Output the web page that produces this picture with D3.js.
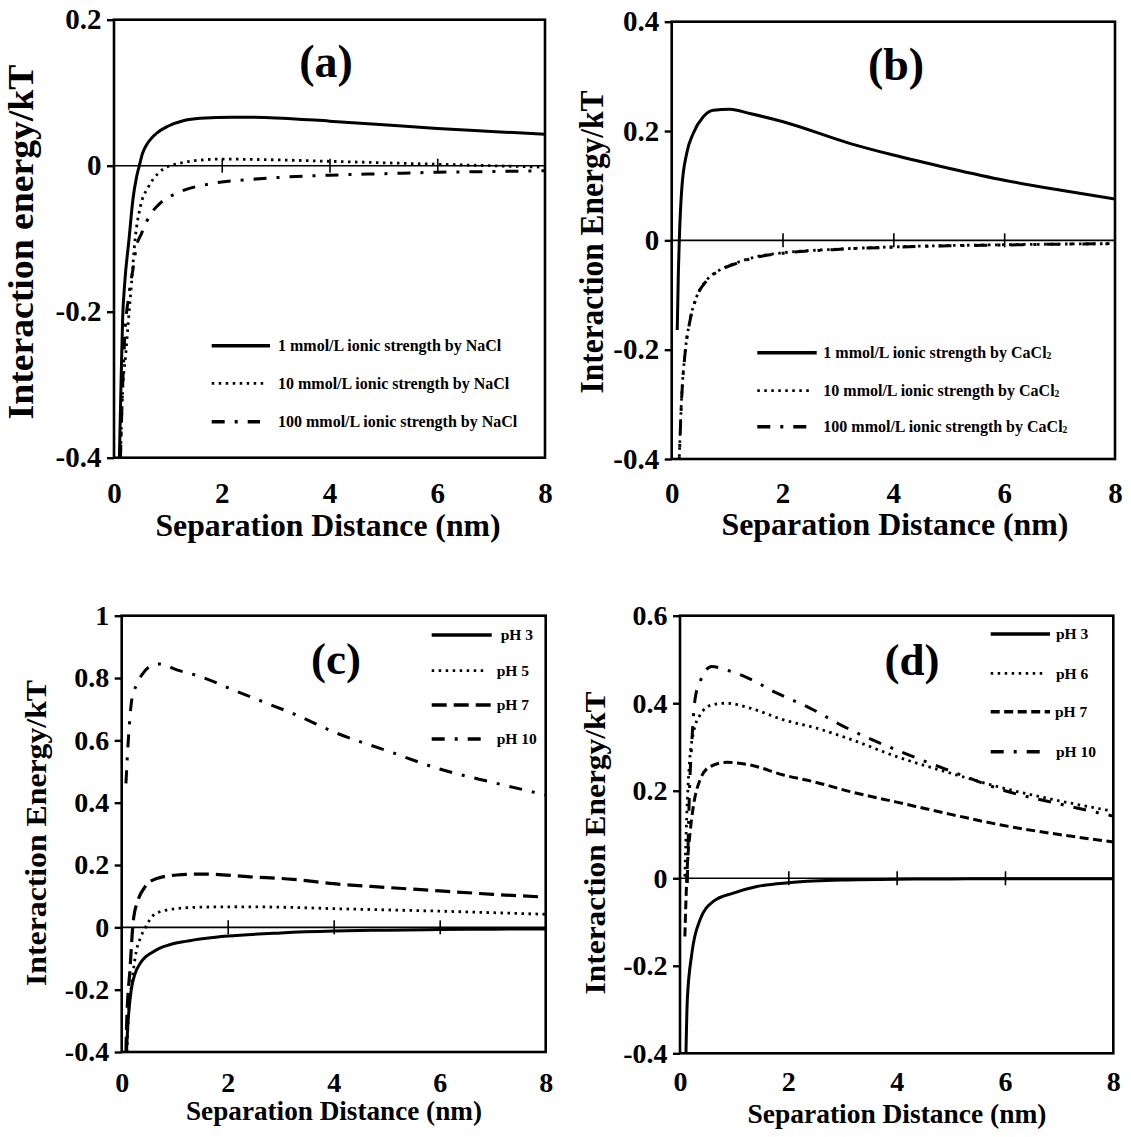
<!DOCTYPE html>
<html><head><meta charset="utf-8">
<script src="https://cdn.jsdelivr.net/npm/d3@7"></script>
<style>
body{margin:0;background:#fff}
svg{display:block}
text{font-family:'Liberation Serif','Times New Roman',serif;font-weight:bold;fill:#000}
</style>
</head><body>
<svg id="chart" width="1131" height="1137"></svg>
<script>
// ---------------- DATA ----------------
const xTickValues = [0, 2, 4, 6, 8];
const yTicksA = [-0.4, -0.2, 0, 0.2];
const yTicksB = [-0.4, -0.2, 0, 0.2, 0.4];
const yTicksC = [-0.4, -0.2, 0, 0.2, 0.4, 0.6, 0.8, 1];
const yTicksD = [-0.4, -0.2, 0, 0.2, 0.4, 0.6];

const legendA = ['1 mmol/L ionic strength by NaCl', '10 mmol/L ionic strength by NaCl', '100 mmol/L ionic strength by NaCl'];
const legendB = ['1 mmol/L ionic strength by CaCl₂', '10 mmol/L ionic strength by CaCl₂', '100 mmol/L ionic strength by CaCl₂'];
const legendC = ['pH 3', 'pH 5', 'pH 7', 'pH 10'];
const legendD = ['pH 3', 'pH 6', 'pH 7', 'pH 10'];

// panel (a): NaCl
const a_NaCl_1 = [[0.1,-0.40],[0.13,-0.30],[0.16,-0.21],[0.2,-0.16],[0.28,-0.10],[0.35,-0.047],[0.42,-0.015],[0.47,0],[0.53,0.017],[0.6,0.028],[0.7,0.038],[0.8,0.045],[1.0,0.054],[1.3,0.062],[1.6,0.065],[2.2,0.0665],[3,0.0655],[4,0.061],[5,0.056],[6,0.051],[7,0.047],[8,0.043]];
const a_NaCl_10 = [[0.12,-0.40],[0.16,-0.31],[0.22,-0.257],[0.27,-0.21],[0.32,-0.166],[0.39,-0.102],[0.49,-0.056],[0.64,-0.029],[0.82,-0.0105],[1.04,0],[1.2,0.003],[1.5,0.007],[2,0.009],[3,0.008],[4,0.006],[5,0.004],[6,0.002],[7,0.0],[8,-0.002]];
const a_NaCl_100 = [[0.12,-0.40],[0.14,-0.348],[0.2,-0.234],[0.28,-0.175],[0.36,-0.138],[0.41,-0.113],[0.51,-0.093],[0.67,-0.0675],[0.82,-0.054],[1.22,-0.036],[1.78,-0.025],[2.5,-0.019],[3.08,-0.016],[4,-0.013],[5,-0.011],[6,-0.009],[7,-0.008],[8,-0.007]];

// panel (b): CaCl2
const b_CaCl2_1 = [[0.10,-0.164],[0.12,-0.06],[0.137,0],[0.18,0.092],[0.27,0.159],[0.39,0.196],[0.57,0.226],[0.75,0.238],[1.05,0.2397],[1.41,0.232],[2.01,0.217],[3.21,0.1775],[4,0.156],[5,0.132],[6,0.110],[7,0.092],[8,0.0756]];
const b_CaCl2_10 = [[0.137,-0.396],[0.18,-0.286],[0.24,-0.207],[0.33,-0.146],[0.45,-0.103],[0.63,-0.073],[0.87,-0.054],[1.17,-0.041],[1.53,-0.030],[2.01,-0.0227],[2.91,-0.0165],[4,-0.012],[5,-0.0095],[6,-0.008],[7,-0.0068],[8,-0.006]];
const b_CaCl2_100 = [[0.13,-0.42],[0.18,-0.288],[0.24,-0.208],[0.33,-0.147],[0.45,-0.104],[0.63,-0.074],[0.87,-0.055],[1.17,-0.042],[1.53,-0.031],[2.01,-0.0235],[2.91,-0.017],[4,-0.0125],[5,-0.010],[6,-0.0085],[7,-0.007],[8,-0.0062]];

// panel (c): pH (set 1)
const c_pH3 = [[0.09,-0.40],[0.11,-0.33],[0.14,-0.26],[0.18,-0.2],[0.25,-0.15],[0.35,-0.115],[0.45,-0.095],[0.55,-0.083],[0.7,-0.068],[0.9,-0.056],[1.2,-0.045],[1.6,-0.035],[2,-0.028],[3,-0.018],[4,-0.012],[5,-0.009],[6,-0.007],[7,-0.006],[8,-0.005]];
const c_pH5 = [[0.1,-0.40],[0.125,-0.287],[0.19,-0.18],[0.28,-0.073],[0.35,-0.035],[0.44,-0.003],[0.6,0.039],[0.85,0.0556],[1.35,0.064],[2.1,0.066],[3.2,0.064],[4,0.060],[5,0.056],[6,0.052],[7,0.047],[8,0.042]];
const c_pH7 = [[0.08,-0.40],[0.09,-0.33],[0.16,-0.126],[0.22,0.023],[0.31,0.088],[0.44,0.130],[0.66,0.157],[1.04,0.168],[1.6,0.171],[2.42,0.162],[3.24,0.154],[4,0.14],[5,0.128],[6,0.117],[7,0.106],[8,0.097]];
const c_pH10 = [[0.08,0.462],[0.125,0.601],[0.19,0.73],[0.28,0.778],[0.38,0.81],[0.53,0.837],[0.72,0.845],[1.04,0.826],[1.48,0.805],[2.1,0.762],[2.74,0.719],[3.3,0.681],[4,0.627],[5,0.567],[6,0.508],[7,0.465],[8,0.425]];

// panel (d): pH (set 2)
const d_pH3 = [[0.11,-0.40],[0.135,-0.278],[0.22,-0.171],[0.37,-0.095],[0.615,-0.053],[0.985,-0.034],[1.42,-0.019],[2.0,-0.010],[3.0,-0.004],[4,-0.002],[5,-0.0015],[6,-0.001],[7,-0.001],[8,-0.001]];
const d_pH6 = [[0.09,0.004],[0.124,0.141],[0.17,0.255],[0.246,0.331],[0.37,0.373],[0.585,0.396],[0.86,0.40],[1.29,0.389],[1.91,0.362],[2.52,0.343],[3.14,0.318],[4,0.278],[5,0.24],[6,0.205],[7,0.177],[8,0.153]];
const d_pH7 = [[0.09,-0.133],[0.11,-0.05],[0.135,0.027],[0.185,0.103],[0.246,0.164],[0.37,0.225],[0.554,0.255],[0.86,0.265],[1.29,0.259],[1.91,0.236],[2.52,0.219],[3.14,0.198],[4,0.174],[5,0.146],[6,0.12],[7,0.10],[8,0.083]];
const d_pH10 = [[0.135,-0.011],[0.17,0.179],[0.22,0.316],[0.28,0.411],[0.37,0.449],[0.585,0.484],[0.86,0.476],[1.23,0.459],[1.79,0.423],[2.4,0.389],[3.02,0.347],[4,0.293],[5,0.245],[6,0.2],[7,0.17],[8,0.142]];

// ---------------- STYLES ----------------
const SOLID = {dash: null, w: 3};
const DOT = {dash: '2.5,4.5', w: 2.8};
const DASHC = {dash: '15,7', w: 3.2};
const DASHD = {dash: '9,4.5', w: 3};
const DASHDOT = {dash: '13,10,3,10', w: 3};

const panels = [
  {box:{l:114,r:545,t:19.7,b:457.7}, yDomain:[-0.4,0.2], yTicks:yTicksA,
   title:'(a)', tx:326, ty:77, tsize:46,
   yTitle:'Interaction energy/kT', ytx:21, yty:242, ytLen:355, ytSize:36,
   xTitle:'Separation Distance (nm)', xtx:328, xty:536, xtLen:345, xtSize:31,
   tickSize:29, xLabY:503,
   series:[[a_NaCl_1,SOLID],[a_NaCl_10,DOT],[a_NaCl_100,DASHDOT]],
   legend:{labels:legendA, x1:211.7, x2:[270,266.7,260], tx:[278,278,278], ys:[345.7,383.3,421.7], size:16}},
  {box:{l:671.7,r:1115,t:21.7,b:459}, yDomain:[-0.4,0.4], yTicks:yTicksB,
   title:'(b)', tx:896, ty:80, tsize:46,
   yTitle:'Interaction Energy/kT', ytx:592, yty:242, ytLen:303, ytSize:34,
   xTitle:'Separation Distance (nm)', xtx:895, xty:535, xtLen:347, xtSize:31,
   tickSize:29, xLabY:502.7,
   series:[[b_CaCl2_1,SOLID],[b_CaCl2_10,DOT],[b_CaCl2_100,DASHDOT]],
   legend:{labels:legendB, x1:757.3, x2:[816.7,813.3,806.7], tx:[823.3,823.3,823.3], ys:[352.7,390.7,426.7], size:16}},
  {box:{l:121.7,r:545.7,t:615.7,b:1052}, yDomain:[-0.4,1], yTicks:yTicksC,
   title:'(c)', tx:336, ty:674, tsize:45,
   yTitle:'Interaction Energy/kT', ytx:36.5, yty:833, ytLen:306, ytSize:30,
   xTitle:'Separation Distance (nm)', xtx:334, xty:1120, xtLen:296, xtSize:28,
   tickSize:28, xLabY:1092,
   series:[[c_pH3,SOLID],[c_pH5,DOT],[c_pH7,DASHC],[c_pH10,DASHDOT]],
   legend:{labels:legendC, x1:431.7, x2:[491.7,486.7,491.7,481.7], tx:[500.7,496.7,496.7,496.7], ys:[635,670.7,705,739], size:15.5, dashes:[SOLID,DOT,DASHC,DASHDOT]}},
  {box:{l:680,r:1113.3,t:615.7,b:1053.3}, yDomain:[-0.4,0.6], yTicks:yTicksD,
   title:'(d)', tx:912, ty:675, tsize:45,
   yTitle:'Interaction Energy/kT', ytx:595, yty:843, ytLen:303, ytSize:30,
   xTitle:'Separation Distance (nm)', xtx:897, xty:1123, xtLen:299, xtSize:28,
   tickSize:28, xLabY:1091,
   series:[[d_pH3,SOLID],[d_pH6,DOT],[d_pH7,DASHD],[d_pH10,DASHDOT]],
   legend:{labels:legendD, x1:990.7, x2:[1050,1046.7,1050,1040], tx:[1056,1056,1055,1056], ys:[634,673.3,711.7,751.7], size:15.5}}
];

const svg = d3.select('#chart');
const fmt = v => (v === 0 ? '0' : String(+v.toFixed(1)));

panels.forEach((p, i) => {
  const {l, r, t, b} = p.box;
  const x = d3.scaleLinear().domain([0, 8]).range([l, r]);
  const y = d3.scaleLinear().domain(p.yDomain).range([b, t]);
  const g = svg.append('g');

  const clipId = 'clip' + i;
  svg.append('clipPath').attr('id', clipId)
    .append('rect').attr('x', l).attr('y', t).attr('width', r - l).attr('height', b - t);

  // zero line
  g.append('line').attr('x1', l).attr('x2', r).attr('y1', y(0)).attr('y2', y(0))
    .attr('stroke', '#000').attr('stroke-width', 1.6);

  // crossing ticks on zero line
  const xz = g.append('g').attr('transform', `translate(0,${y(0) - 7})`)
    .call(d3.axisBottom(x).tickValues([2, 4, 6]).tickSize(14).tickFormat(''));
  xz.select('.domain').remove();
  xz.selectAll('line').attr('stroke', '#000').attr('stroke-width', 1.6);

  // curves
  const line = d3.line().x(d => x(d[0])).y(d => y(d[1])).curve(d3.curveMonotoneX);
  const cg = g.append('g').attr('clip-path', `url(#${clipId})`);
  p.series.forEach(([data, st]) => {
    cg.append('path').attr('d', line(data)).attr('fill', 'none').attr('stroke', '#000')
      .attr('stroke-width', st.w).attr('stroke-dasharray', st.dash)
      .attr('stroke-linejoin', 'round');
  });

  // frame
  g.append('rect').attr('x', l).attr('y', t).attr('width', r - l).attr('height', b - t)
    .attr('fill', 'none').attr('stroke', '#000').attr('stroke-width', 2.6);

  // y axis
  const ya = g.append('g').attr('transform', `translate(${l},0)`)
    .call(d3.axisLeft(y).tickValues(p.yTicks).tickSize(7).tickPadding(5.5).tickFormat(fmt));
  ya.select('.domain').remove();
  ya.selectAll('line').attr('stroke', '#000').attr('stroke-width', 2.4);
  ya.selectAll('text').attr('font-size', p.tickSize).attr('font-family', null)
    .attr('fill', '#000');

  // x axis labels
  const xa = g.append('g').attr('transform', `translate(0,${b})`)
    .call(d3.axisBottom(x).tickValues(xTickValues).tickSize(0).tickFormat(d3.format('d')));
  xa.select('.domain').remove();
  xa.selectAll('text').attr('font-size', p.tickSize).attr('font-family', null)
    .attr('fill', '#000').attr('y', p.xLabY - b).attr('dy', 0);

  // titles
  g.append('text').attr('x', p.tx).attr('y', p.ty).attr('text-anchor', 'middle')
    .attr('font-size', p.tsize).text(p.title);
  g.append('text').attr('transform', `translate(${p.ytx},${p.yty}) rotate(-90)`)
    .attr('text-anchor', 'middle').attr('dy', '0.33em').attr('font-size', p.ytSize)
    .attr('textLength', p.ytLen).attr('lengthAdjust', 'spacingAndGlyphs').text(p.yTitle);
  g.append('text').attr('x', p.xtx).attr('y', p.xty).attr('text-anchor', 'middle')
    .attr('font-size', p.xtSize).attr('textLength', p.xtLen)
    .attr('lengthAdjust', 'spacingAndGlyphs').text(p.xTitle);

  // legend
  const L = p.legend;
  L.labels.forEach((lab, k) => {
    const st = p.series[k][1];
    g.append('line').attr('x1', L.x1).attr('x2', L.x2[k]).attr('y1', L.ys[k]).attr('y2', L.ys[k])
      .attr('stroke', '#000').attr('stroke-width', st === DOT ? 2.8 : 3.4)
      .attr('stroke-dasharray', st.dash);
    const tx = g.append('text').attr('x', L.tx[k]).attr('y', L.ys[k]).attr('dy', '0.35em')
      .attr('font-size', L.size);
    if (lab.endsWith('₂')) {
      tx.append('tspan').text(lab.slice(0, -1));
      tx.append('tspan').attr('font-size', L.size * 0.6).attr('dy', '0.1em').text('2');
    } else {
      tx.text(lab);
    }
  });
});
</script>
</body></html>
